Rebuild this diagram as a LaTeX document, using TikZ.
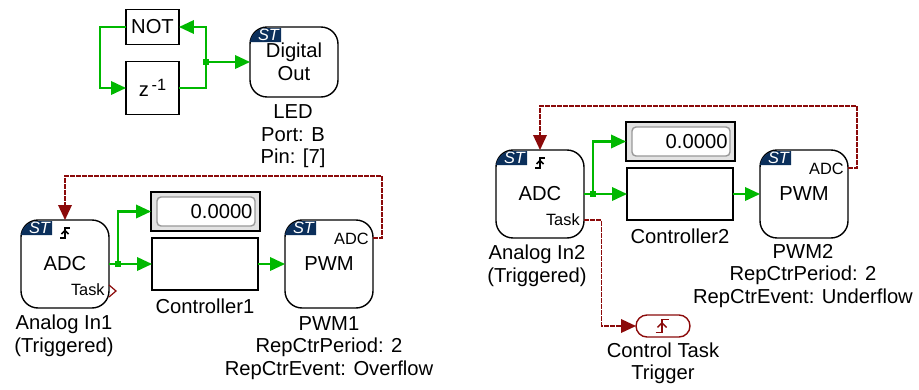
\documentclass[tikz,border=0pt]{standalone}
\usepackage{fontspec}
\setmainfont{Liberation Sans}
\usetikzlibrary{arrows.meta,calc}

\definecolor{sigline}{HTML}{00B800}
\definecolor{taskline}{HTML}{8B0A0A}
\definecolor{stblue}{HTML}{0B2F5B}

\tikzset{
    block/.style={draw, line width=0.8pt, outer sep=0pt, inner sep=0pt, align=center, font=\fontsize{11.5}{13.2}\selectfont},
    stblock/.style={block, rounded corners=0.34cm, minimum width=1.76cm, minimum height=1.76cm},
    lbl/.style={align=center, inner sep=0pt, font=\fontsize{11.5}{12.8}\selectfont},
    portlbl/.style={anchor=east, inner sep=0pt, font=\fontsize{9.3}{10}\selectfont},
    sig/.style={draw=sigline, line width=1.2pt, -{Triangle[length=0.3cm,width=0.27cm]}},
    signoarrow/.style={draw=sigline, line width=1.2pt},
    task/.style={draw=taskline, line width=1.1pt, dash pattern=on 0.1cm off 0.02cm, -{Triangle[length=0.3cm,width=0.27cm]}},
    tasknoarrow/.style={draw=taskline, line width=0.9pt},
    junction/.style={fill=sigline, inner sep=0pt, minimum size=0.12cm, outer sep=0pt},
    trigsym/.pic={
        \draw[line width=0.85pt, line cap=butt] (-5,5.5) -- (0,5.5) -- (0,-4.5) -- (5,-4.5);
        \draw[line width=0.85pt] (-3.5,1.5) -- (0,-2) -- (3.5,1.5);
    }
}

% ST tag in the corner of a block
\newcommand{\sttag}[1]{
    \begin{scope}[shift={(#1.north west)}]
        \fill[stblue] (0,15) .. controls (1,7) and (8,1) .. (17,1) -- (31,1) -- (31,15) -- cycle;
        \node[text=white, inner sep=0pt, font=\fontsize{9.3}{10}\selectfont\itshape] (#1st) at (18.5,8) {ST};
    \end{scope}
}

\begin{document}
\begin{tikzpicture}[x=0.02cm, y=-0.02cm]

    \useasboundingbox (0,0) rectangle (919,389);

    % NOT and delay loop
    \node[block, minimum width=1.06cm, minimum height=0.7cm] (notgate) at (152.5,27) {NOT};
    \node[block, minimum width=1.06cm, minimum height=1.06cm] (delay) at (152.5,88) {z\raisebox{0.55ex}{\fontsize{9.3}{10}\selectfont\,-1}};
    \node[stblock, minimum height=1.4cm] (digout) at (294,62) {Digital\\Out};
    \sttag{digout}
    \node[lbl] (ledlbl) at (293,136.5) {LED\\Port: B\\Pin: [7]};
    \node[junction] (dojunc) at (206,62) {};
    \coordinate (loopleft) at (100,27);
    \draw[signoarrow] (delay.east) -| (dojunc.center);
    \draw[sig] (dojunc.center) |- (notgate.east);
    \draw[sig] (notgate.west) -- (loopleft) |- (delay.west);
    \draw[sig] (dojunc) -- (digout.west);

    % Left channel
    \node[stblock] (adcone) at (65,264) {ADC};
    \sttag{adcone}
    \pic[black] at (65,232.5) {trigsym};
    \node[portlbl] (taskone) at (105,290) {Task};
    \draw[tasknoarrow, line width=0.7pt] (109,285) -- (116,291) -- (109,297);
    \node[lbl] (adconelbl) at (64,336) {Analog In1\\(Triggered)};

    \node[block, fill=black!11, minimum width=2.18cm, minimum height=0.78cm] (dispone) at (205.5,211.5) {};
    \node[block, draw=black!40, fill=white, rounded corners=0.08cm, minimum height=0.58cm, text width=1.86cm, inner xsep=0.05cm, align=right] (dispvalone) at (206,211.5) {0.0000};
    \node[block, minimum width=2.12cm, minimum height=1.04cm] (ctrlone) at (205,264) {};
    \node[lbl] (ctrlonelbl) at (205,306) {Controller1};

    \node[stblock] (pwmone) at (329,264) {PWM};
    \sttag{pwmone}
    \node[portlbl] (adcportone) at (369,238.5) {ADC};
    \node[lbl] (pwmonelbl) at (329,348) {PWM1\\RepCtrPeriod: 2\\RepCtrEvent: Overflow};

    \node[junction] (junone) at (118,264) {};
    \draw[signoarrow] (adcone.east) -- (junone);
    \draw[sig] (junone) |- (dispone.west);
    \draw[sig] (junone) -- (ctrlone.west);
    \draw[sig] (ctrlone.east) -- (pwmone.west);

    \coordinate (trigoutone) at (373,238);
    \coordinate (trigupone) at (382,176);
    \draw[task] (trigoutone) -| (trigupone) -| (adcone.north);

    % Right channel
    \node[stblock] (adctwo) at (540,194) {ADC};
    \sttag{adctwo}
    \pic[black] at (540,162.5) {trigsym};
    \node[portlbl] (tasktwo) at (580,220) {Task};
    \node[lbl] (adctwolbl) at (537,266) {Analog In2\\(Triggered)};

    \node[block, fill=black!11, minimum width=2.18cm, minimum height=0.78cm] (disptwo) at (680.5,141.5) {};
    \node[block, draw=black!40, fill=white, rounded corners=0.08cm, minimum height=0.58cm, text width=1.86cm, inner xsep=0.05cm, align=right] (dispvaltwo) at (681,141.5) {0.0000};
    \node[block, minimum width=2.12cm, minimum height=1.04cm] (ctrltwo) at (680,194) {};
    \node[lbl] (ctrltwolbl) at (680,236) {Controller2};

    \node[stblock] (pwmtwo) at (804,194) {PWM};
    \sttag{pwmtwo}
    \node[portlbl] (adcporttwo) at (844,168.5) {ADC};
    \node[lbl] (pwmtwolbl) at (803,276) {PWM2\\RepCtrPeriod: 2\\RepCtrEvent: Underflow};

    \node[junction] (juntwo) at (593,194) {};
    \draw[signoarrow] (adctwo.east) -- (juntwo);
    \draw[sig] (juntwo) |- (disptwo.west);
    \draw[sig] (juntwo) -- (ctrltwo.west);
    \draw[sig] (ctrltwo.east) -- (pwmtwo.west);

    \coordinate (trigouttwo) at (848,168);
    \coordinate (griguptwo) at (857,106);
    \draw[task] (trigouttwo) -| (griguptwo) -| (adctwo.north);

    % Control task trigger
    \node[block, draw=taskline, rounded corners=0.22cm, minimum width=1.08cm, minimum height=0.44cm] (ctrltask) at (663,326) {};
    \pic[taskline, scale=1.3] at (662,325.5) {trigsym};
    \node[lbl] (ctrltasklbl) at (663,363.5) {Control Task\\Trigger};
    \coordinate (taskouttwo) at (584,220);
    \coordinate (taskdown) at (601.5,326);
    \draw[task] (taskouttwo) -| (taskdown) -- (ctrltask.west);

\end{tikzpicture}
\end{document}
